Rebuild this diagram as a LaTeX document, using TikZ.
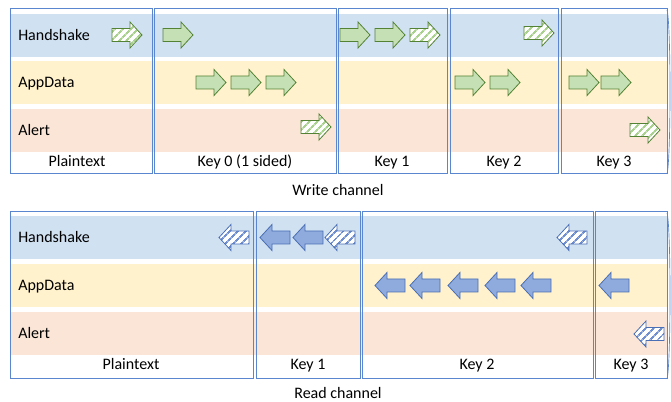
\documentclass[tikz,border=0pt]{standalone}
\usepackage{fontspec}
\setmainfont{Carlito}
\usetikzlibrary{patterns.meta}
\definecolor{hsband}{HTML}{D0E1F2}
\definecolor{adband}{HTML}{FFF2CC}
\definecolor{alband}{HTML}{FBE5D6}
\definecolor{keyline}{HTML}{5A86CF}
\definecolor{wfill}{HTML}{C5E0B4}
\definecolor{wline}{HTML}{548235}
\definecolor{whatchc}{HTML}{A9D18E}
\definecolor{rfill}{HTML}{8FAADC}
\definecolor{rline}{HTML}{4A6FB5}
\definecolor{rhatchc}{HTML}{6F8FD0}
% arrow outlines, x = left end, y = middle
\newcommand\warr[2]{(#1,#2+6.5) -- ++(18,0) -- ++(0,6.5) -- ++(12,-13) -- ++(-12,-13) -- ++(0,6.5) -- ++(-18,0) -- cycle}
\newcommand\rarr[2]{(#1+30,#2+6.5) -- ++(-18,0) -- ++(0,6.5) -- ++(-12,-13) -- ++(12,-13) -- ++(0,6.5) -- ++(18,0) -- cycle}
\tikzset{
  keybox/.style={draw=keyline,line width=0.75pt},
  rowlbl/.style={anchor=base west,font=\fontsize{12}{14}\selectfont,inner sep=0pt},
  keylbl/.style={anchor=base,font=\fontsize{12}{14}\selectfont,inner sep=0pt},
  wsolid/.style={draw=wline,fill=wfill,line width=0.6pt},
  whatch/.style={draw=wline,line width=0.6pt,preaction={fill=white},
    pattern={Lines[angle=45,distance=4pt,line width=1.5pt]},pattern color=whatchc},
  rsolid/.style={draw=rline,fill=rfill,line width=0.6pt},
  rhatch/.style={draw=rline,line width=0.6pt,preaction={fill=white},
    pattern={Lines[angle=45,distance=4pt,line width=1.5pt]},pattern color=rhatchc},
}
\begin{document}
\begin{tikzpicture}[x=0.75pt,y=-0.75pt]
 \useasboundingbox (0,0) rectangle (671,402);
 % write channel
 \fill[hsband] (11,14) rectangle (667,57);
 \fill[adband] (11,61) rectangle (667,104);
 \fill[alband] (11,109) rectangle (667,152);
 \draw[keybox] (10,9) rectangle (152,174);
 \draw[keybox] (154,9) rectangle (336,174);
 \draw[keybox] (338,9) rectangle (447,174);
 \draw[keybox] (450,9) rectangle (558,174);
 \draw[keybox] (561,9) rectangle (667,174);
 \draw[keyline,line width=0.5pt] (667,10) .. controls (671,22) and (671,160) .. (667,174);
 \node[rowlbl] (whs) at (18,41) {Handshake};
 \node[rowlbl] (wad) at (18,88) {AppData};
 \node[rowlbl] (wal) at (18,136) {Alert};
 \node[keylbl] (wk) at (77,167) {Plaintext};
 \node[keylbl] (wk0) at (245,167) {Key 0 (1 sided)};
 \node[keylbl] (wk1) at (392,167) {Key 1};
 \node[keylbl] (wk2) at (504,167) {Key 2};
 \node[keylbl] (wk3) at (614,167) {Key 3};
 \node[keylbl] (wch) at (338,196) {Write channel};
 \foreach \x in {163,340,375} \draw[wsolid] \warr{\x}{35};
 \foreach \x in {112,410} \draw[whatch] \warr{\x}{35};
 \draw[whatch] \warr{524}{33};
 \foreach \x in {196,231,266,455,490,569,601} \draw[wsolid] \warr{\x}{82.5};
 \draw[whatch] \warr{301}{127};
 \draw[whatch] \warr{630}{130};
 % read channel
 \fill[hsband] (11,216) rectangle (667,259);
 \fill[adband] (11,264) rectangle (667,307);
 \fill[alband] (11,312) rectangle (667,355);
 \draw[keybox] (10,212) rectangle (253,379);
 \draw[keybox] (256,212) rectangle (360,379);
 \draw[keybox] (362,212) rectangle (593,379);
 \draw[keybox] (595,212) rectangle (667,379);
 \draw[keyline,line width=0.5pt] (667,213) .. controls (671,225) and (671,365) .. (667,379);
 \node[rowlbl] (rhs) at (18,243) {Handshake};
 \node[rowlbl] (rad) at (18,291) {AppData};
 \node[rowlbl] (ral) at (18,339) {Alert};
 \node[keylbl] (rk) at (131,370) {Plaintext};
 \node[keylbl] (rk1) at (308,370) {Key 1};
 \node[keylbl] (rk2) at (477,370) {Key 2};
 \node[keylbl] (rk3) at (631,370) {Key 3};
 \node[keylbl] (rch) at (338,398) {Read channel};
 \foreach \x in {260,293} \draw[rsolid] \rarr{\x}{237.5};
 \foreach \x in {219,325,557} \draw[rhatch] \rarr{\x}{237.5};
 \foreach \x in {375,410,448,485,521,599} \draw[rsolid] \rarr{\x}{285.5};
 \draw[rhatch] \rarr{634}{334};
\end{tikzpicture}
\end{document}
